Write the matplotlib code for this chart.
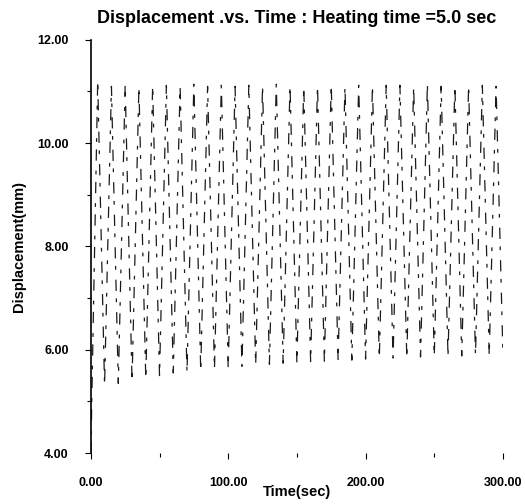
import numpy as np
import matplotlib.pyplot as plt
from matplotlib.ticker import MultipleLocator, FormatStrFormatter

# cycle extremes (heating 5 s, cooling 5 s)
valley_time = [0, 10, 20, 30, 40, 50, 60, 70, 80, 90, 100, 110, 120, 130, 140,
               150, 160, 170, 180, 190, 200, 210, 220, 230, 240, 250, 260, 270,
               280, 290, 300]
valley_disp = [4.00, 5.30, 5.35, 5.40, 5.45, 5.50, 5.55, 5.55, 5.60, 5.62, 5.65,
               5.68, 5.70, 5.72, 5.74, 5.75, 5.77, 5.78, 5.80, 5.80, 5.82, 5.83,
               5.84, 5.85, 5.86, 5.87, 5.88, 5.88, 5.89, 5.90, 5.90]
peak_time = [5, 15, 25, 35, 45, 55, 65, 75, 85, 95, 105, 115, 125, 135, 145,
             155, 165, 175, 185, 195, 205, 215, 225, 235, 245, 255, 265, 275,
             285, 295]
peak_disp = [11.20, 11.10, 11.12, 11.08, 11.10, 11.12, 11.10, 11.14, 11.10, 11.12,
             11.10, 11.12, 11.10, 11.14, 11.12, 11.10, 11.12, 11.14, 11.10, 11.12,
             11.10, 11.12, 11.12, 11.10, 11.14, 11.10, 11.12, 11.10, 11.12, 11.10]

# interleave valleys and peaks into one trace
t = []
d = []
for i in range(len(peak_time)):
    t += [valley_time[i], peak_time[i]]
    d += [valley_disp[i], peak_disp[i]]
t.append(valley_time[-1])
d.append(valley_disp[-1])

plt.rcParams['font.family'] = ['Liberation Sans', 'DejaVu Sans']
fig = plt.figure(figsize=(5.25, 5.04), dpi=100)
ax = fig.add_axes([0.173, 0.101, 0.785, 0.820])

# scanned trace is broken up, so draw it with an uneven dash
ax.plot(t, d, color='#1a1a1a', lw=0.9, linestyle=(0, (9, 6, 3, 8)))

ax.set_xlim(0, 300)
ax.set_ylim(4, 12)
ax.xaxis.set_major_locator(MultipleLocator(100))
ax.xaxis.set_minor_locator(MultipleLocator(50))
ax.yaxis.set_major_locator(MultipleLocator(2))
ax.yaxis.set_minor_locator(MultipleLocator(1))
ax.xaxis.set_major_formatter(FormatStrFormatter('%.2f'))
ax.yaxis.set_major_formatter(FormatStrFormatter('%.2f'))

for s in ['top', 'right']:
    ax.spines[s].set_visible(False)
ax.spines['bottom'].set_visible(False)
ax.spines['left'].set_linewidth(1.2)

ax.tick_params(axis='both', which='both', direction='out', labelsize=9,
               width=0.8)
ax.tick_params(axis='x', which='major', length=4, pad=13)
ax.tick_params(axis='y', which='major', length=4, pad=12)
ax.tick_params(axis='both', which='minor', length=3)
for lab in ax.get_xticklabels() + ax.get_yticklabels():
    lab.set_fontweight('bold')

ax.set_title('Displacement .vs. Time : Heating time =5.0 sec', fontsize=13,
             fontweight='bold', pad=12)
ax.set_xlabel('Time(sec)', fontsize=10.5, fontweight='bold', labelpad=-3)
ax.set_ylabel('Displacement(mm)', fontsize=10.5, fontweight='bold', labelpad=8)

fig.savefig('out.png', dpi=100)
